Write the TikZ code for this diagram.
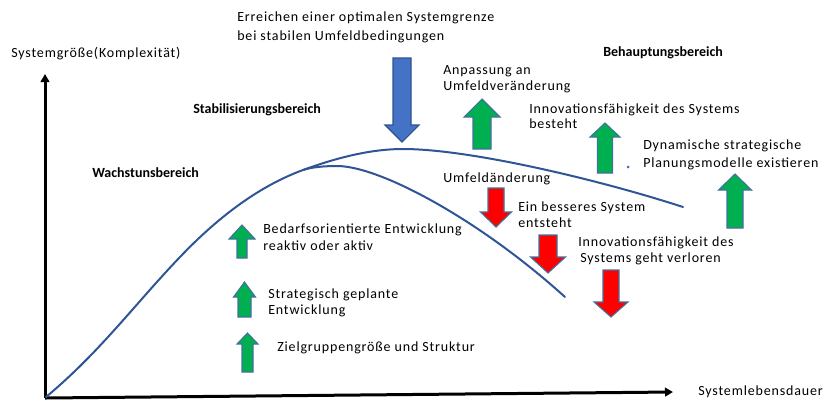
\documentclass[tikz,border=0pt]{standalone}
\usepackage{fontspec}
\setmainfont{Carlito}
\newfontfamily\spacedfont[LetterSpace=6]{Carlito}
\usetikzlibrary{arrows.meta}
\definecolor{curveblue}{HTML}{2F5597}
\definecolor{arrblue}{HTML}{4472C4}
\definecolor{arrblueedge}{HTML}{2F528F}
\definecolor{arrgreen}{HTML}{00B050}
\definecolor{arrred}{HTML}{FF0000}
\definecolor{arredge}{HTML}{41719C}
\newcommand{\blkarrow}[7]{%
  \draw[#1] (#2,#3) -- ({#2+#7},#4) -- ({#2+#6},#4) -- ({#2+#6},#5) -- ({#2-#6},#5) -- ({#2-#6},#4) -- ({#2-#7},#4) -- cycle;}
\begin{document}
\begin{tikzpicture}[x=0.75pt,y=-0.75pt,
  txt/.style={anchor=base west,inner sep=0pt,font=\spacedfont\fontsize{10.5}{12}\selectfont},
  btxt/.style={anchor=base west,inner sep=0pt,font=\fontsize{10.5}{12}\selectfont\bfseries},
  axis/.style={line width=2.25pt,black,-{Triangle[length=6pt,width=6.5pt]}},
  curve/.style={curveblue,line width=1.5pt,line cap=round},
  greenarr/.style={fill=arrgreen,draw=arredge,line width=0.8pt,line join=miter},
  redarr/.style={fill=arrred,draw=arredge,line width=0.8pt,line join=miter},
  bluearr/.style={fill=arrblue,draw=arrblueedge,line width=0.8pt,line join=miter}]
\useasboundingbox (0,0) rectangle (830,401);

% axes
\coordinate (O) at (45,398);
\coordinate (Ytip) at (45,74);
\coordinate (Xtip) at (673,392);
\draw[axis] (O) -- (Ytip);
\draw[axis] (O) -- (Xtip);

% curves
\coordinate (c0) at (46,397);
\coordinate (c1) at (180,257);
\coordinate (split) at (303,170);
\coordinate (peak) at (403,149);
\coordinate (outerend) at (683,207);
\coordinate (innerpeak) at (337,166);
\coordinate (innerend) at (565,297);
\draw[curve] (c0) .. controls (100,352) and (135,304) .. (c1)
  .. controls (221,214) and (262,185) .. (split)
  .. controls (336,158) and (370,149) .. (peak)
  .. controls (470,149) and (600,180) .. (outerend);
\draw[curve] (split) .. controls (312,167) and (325,166) .. (innerpeak)
  .. controls (380,166) and (480,220) .. (innerend);

% block arrows
\blkarrow{bluearr}{402}{142}{125}{58}{9}{17}
\blkarrow{greenarr}{482}{99}{117}{149}{9}{18}
\blkarrow{greenarr}{605}{123}{137}{173}{7.5}{15}
\blkarrow{greenarr}{735}{174}{190}{228}{8}{16.5}
\blkarrow{redarr}{496}{227}{212}{188}{8}{15.5}
\blkarrow{redarr}{548}{273}{257}{235}{9}{17.5}
\blkarrow{redarr}{611}{317}{302}{270}{8}{17}
\blkarrow{greenarr}{242}{225}{239}{258}{5}{13}
\blkarrow{greenarr}{244.5}{282}{297}{317}{6.5}{11}
\blkarrow{greenarr}{247.5}{333}{344}{372}{5.5}{10.5}

\fill[arredge] (628,167) circle (1.5);

% texts
\node[txt] (t1a) at (237,21) {Erreichen einer optimalen Systemgrenze};
\node[txt] (t1b) at (237,40) {bei stabilen Umfeldbedingungen};
\node[txt] (ylab) at (11,57) {Systemgröße(Komplexität)};
\node[txt] (xlab) at (698,395) {Systemlebensdauer};
\node[btxt] (stab) at (193,113) {Stabilisierungsbereich};
\node[btxt] (wach) at (92,177) {Wachstunsbereich};
\node[btxt] (beh) at (603,56) {Behauptungsbereich};
\node[txt] (anp1) at (443,74) {Anpassung an};
\node[txt] (anp2) at (443,90) {Umfeldveränderung};
\node[txt] (inn1) at (529,113) {Innovationsfähigkeit des Systems};
\node[txt] (inn2) at (529,128) {besteht};
\node[txt] (dyn1) at (643,149) {Dynamische strategische};
\node[txt] (dyn2) at (643,167) {Planungsmodelle existieren};
\node[txt] (umf) at (443,182) {Umfeldänderung};
\node[txt] (ein1) at (518,211) {Ein besseres System};
\node[txt] (ein2) at (518,227) {entsteht};
\node[txt] (ver1) at (578,246) {Innovationsfähigkeit des};
\node[txt] (ver2) at (580,262) {Systems geht verloren};
\node[txt] (bed1) at (263,233) {Bedarfsorientierte Entwicklung};
\node[txt] (bed2) at (263,250) {reaktiv oder aktiv};
\node[txt] (str1) at (268,298) {Strategisch geplante};
\node[txt] (str2) at (268,314) {Entwicklung};
\node[txt] (ziel) at (277,351) {Zielgruppengröße und Struktur};
\end{tikzpicture}
\end{document}
